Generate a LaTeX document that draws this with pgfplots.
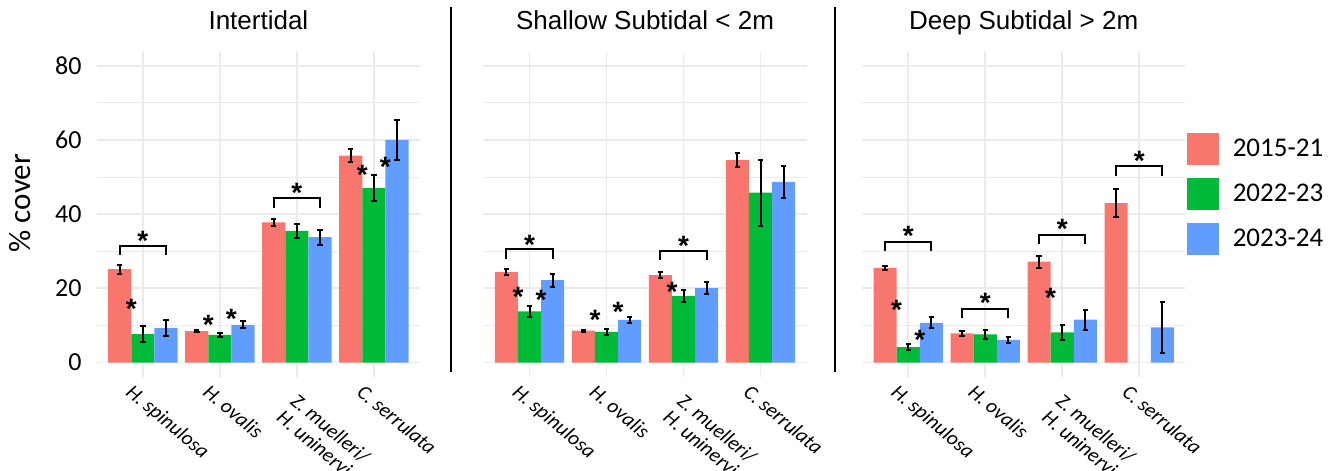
\documentclass[border=0pt]{standalone}
\usepackage{pgfplots}
\pgfplotsset{compat=1.18}
\usepackage{fontspec}
\setmainfont{Carlito}
\newfontfamily\arial{Liberation Sans}
\newlength\px \setlength\px{0.5pt}
\definecolor{cR}{HTML}{F8766D}
\definecolor{cG}{HTML}{00BA38}
\definecolor{cB}{HTML}{619CFF}
\definecolor{gridc}{HTML}{EBEBEB}
\pgfplotsset{
 panel/.style={
  scale only axis, width=323.4\px, height=325\px,
  xmin=0.4, xmax=4.6, ymin=-3.8, ymax=83.8,
  xtick={1,2,3,4},
  xticklabels={H. spinulosa, H. ovalis, {\hspace*{14\px}Z. muelleri/\\\hspace*{14\px}H. uninervis}, C. serrulata},
  ytick={0,20,40,60,80}, minor ytick={10,30,50,70},
  grid=both,
  major grid style={gridc, line width=1.8\px},
  minor grid style={gridc, line width=1.1\px},
  axis line style={draw=none}, tick style={draw=none},
  xticklabel style={font=\fontsize{10.3}{10.8}\selectfont\itshape, align=left, inner sep=0pt,
     xshift=-9\px, yshift=-6\px, rotate=-40, anchor=north west},
  yticklabel style={font=\fontsize{13}{15}\selectfont, inner sep=0pt, anchor=east, xshift=-14.7\px},
  /pgf/number format/assume math mode=true,
  every axis title/.style={font=\arial\fontsize{13}{15}\selectfont, at={(axis description cs:0.5,1)}, anchor=base, yshift=22.4\px},
  clip=false,
 },
 bars/.style={ybar, bar width=0.3, bar shift=0pt, fill=#1, draw=none,
   error bars/.cd, y dir=both, y explicit,
   error bar style={black, line width=2\px},
   error mark options={rotate=90, mark size=2.7\px, line width=2\px, black}},
 brk/.style={sharp plot, black, line width=2\px, no markers, forget plot, unbounded coords=jump},
 stars/.style={sharp plot, only marks, mark=text, text mark={*}, text mark as node=true, forget plot,
   text mark style={/tikz/font=\arial\bfseries\fontsize{14}{14}\selectfont, /tikz/yshift=-6\px, /tikz/inner sep=0pt}},
}
\begin{document}
\begin{tikzpicture}
% ---------- Intertidal ----------
\begin{axis}[panel, at={(96.7\px,94.3\px)}, anchor=south west, title={Intertidal},
  ylabel={\% cover},
  every axis y label/.style={at={(axis description cs:-0.2367,0.534)}, rotate=90, anchor=center, font=\fontsize{15.5}{18}\selectfont}]
\addplot[bars=cR] coordinates {(0.7,25.2) +- (0,1.2) (1.7,8.5) +- (0,0.3) (2.7,37.8) +- (0,0.85) (3.7,55.8) +- (0,1.8)};
\addplot[bars=cG] coordinates {(1,7.7) +- (0,2.1) (2,7.5) +- (0,0.6) (3,35.5) +- (0,1.8) (4,47.1) +- (0,3.5)};
\addplot[bars=cB] coordinates {(1.3,9.35) +- (0,2.1) (2.3,10.2) +- (0,0.9) (3.3,33.8) +- (0,2.0) (4.3,60.0) +- (0,5.3)};
\addplot[brk] coordinates {(0.7,29.0) (0.7,31.4) (1.3,31.4) (1.3,29.0) (nan,nan) (2.7,41.8) (2.7,44.4) (3.3,44.4) (3.3,41.8)};
\addplot[stars] coordinates {(1,34.4) (3,47.5) (0.85,16) (1.85,11.7) (2.15,13.3) (3.85,52.1) (4.15,54.3)};
\end{axis}
% ---------- Shallow ----------
\begin{axis}[panel, at={(483.3\px,94.3\px)}, anchor=south west, title={Shallow Subtidal < 2m}, yticklabels={}]
\addplot[bars=cR] coordinates {(0.7,24.4) +- (0,0.7) (1.7,8.6) +- (0,0.3) (2.7,23.6) +- (0,0.85) (3.7,54.6) +- (0,1.9)};
\addplot[bars=cG] coordinates {(1,13.8) +- (0,1.5) (2,8.3) +- (0,0.8) (3,17.9) +- (0,1.7) (4,45.8) +- (0,8.9)};
\addplot[bars=cB] coordinates {(1.3,22.2) +- (0,1.8) (2.3,11.5) +- (0,0.85) (3.3,20.1) +- (0,1.6) (4.3,48.7) +- (0,4.2)};
\addplot[brk] coordinates {(0.7,28.0) (0.7,30.5) (1.3,30.5) (1.3,28.0) (nan,nan) (2.7,27.6) (2.7,30.2) (3.3,30.2) (3.3,27.6)};
\addplot[stars] coordinates {(1,33.4) (3,33.0) (0.85,19.4) (1.15,18.6) (1.85,13.1) (2.15,15.3) (2.85,20.6)};
\end{axis}
% ---------- Deep ----------
\begin{axis}[panel, at={(862\px,94.3\px)}, anchor=south west, title={Deep Subtidal > 2m}, yticklabels={},
  legend style={at={(axis description cs:1,0.562)}, anchor=west, xshift=1\px, draw=none, fill=none,
     inner sep=0pt, font=\fontsize{13.5}{15}\selectfont, row sep=12.7\px, column sep=14\px,
     nodes={inner sep=0pt, anchor=west}},
  legend cell align=left,
  legend image code/.code={\path[#1, draw=none] (0,-16\px) rectangle (32\px,16\px);}]
\addplot[bars=cR] coordinates {(0.7,25.5) +- (0,0.6) (1.7,7.9) +- (0,0.6) (2.7,27.2) +- (0,1.6) (3.7,43.0) +- (0,3.7)};
\addlegendentry{2015-21}
\addplot[bars=cG] coordinates {(1,4.2) +- (0,0.7) (2,7.6) +- (0,1.25) (3,8.15) +- (0,2.0)};
\addlegendentry{2022-23}
\addplot[bars=cB] coordinates {(1.3,10.7) +- (0,1.5) (2.3,6.1) +- (0,0.85) (3.3,11.6) +- (0,2.7) (4.3,9.5) +- (0,6.8)};
\addlegendentry{2023-24}
\addplot[brk] coordinates {(0.7,30.1) (0.7,32.6) (1.3,32.6) (1.3,30.1) (nan,nan) (1.7,12.1) (1.7,14.5) (2.3,14.5) (2.3,12.1) (nan,nan) (2.7,32.0) (2.7,34.3) (3.3,34.3) (3.3,32.0) (nan,nan) (3.7,50.4) (3.7,52.9) (4.3,52.9) (4.3,50.4)};
\addplot[stars] coordinates {(1,35.8) (2,17.6) (3,37.6) (4,56.0) (0.85,15.8) (1.15,7.7) (2.85,19.1)};
\end{axis}
\draw[black, line width=1.3\px] (451\px,99.3\px) -- (451\px,464.3\px);
\draw[black, line width=1.3\px] (835\px,99.3\px) -- (835\px,464.3\px);
\pgfresetboundingbox
\path[use as bounding box] (0,0) rectangle (1340\px,471\px);
\end{tikzpicture}
\end{document}
